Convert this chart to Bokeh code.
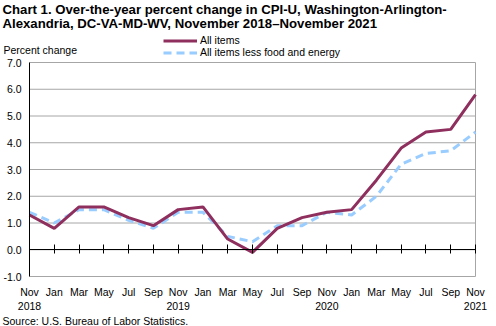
from bokeh.plotting import figure
from bokeh.models import (Range1d, FixedTicker, LinearAxis, Legend, LegendItem,
                          Label, NumeralTickFormatter)
from bokeh.embed import file_html
from bokeh.resources import INLINE

# ---- data ----
tick_labels = ["Nov\n2018", "Jan", "Mar", "May", "Jul", "Sep",
               "Nov\n2019", "Jan", "Mar", "May", "Jul", "Sep",
               "Nov\n2020", "Jan", "Mar", "May", "Jul", "Sep",
               "Nov\n2021"]
all_items = [1.3, 0.8, 1.6, 1.6, 1.2, 0.9, 1.5, 1.6, 0.4, -0.1,
             0.8, 1.2, 1.4, 1.5, 2.6, 3.8, 4.4, 4.5, 5.8]
core = [1.4, 1.0, 1.5, 1.5, 1.1, 0.8, 1.4, 1.4, 0.5, 0.3,
        0.9, 0.9, 1.4, 1.3, 2.0, 3.2, 3.6, 3.7, 4.4]
y_ticks = [-1, 0, 1, 2, 3, 4, 5, 6, 7]
series_names = ["All items", "All items less food and energy"]
title_lines = ["Chart 1. Over-the-year percent change in CPI-U, Washington-Arlington-",
               "Alexandria, DC-VA-MD-WV, November 2018\u2013November  2021"]
y_title = "Percent change"
source_text = "Source: U.S. Bureau of Labor Statistics."

x = list(range(len(all_items)))

# ---- layout (pixels) ----
W, H = 496, 326
PLOT_L, PLOT_R, PLOT_T, PLOT_B = 29, 475, 62, 276
FONT = "Liberation Sans"
GRID = "#a6a6a6"
C_ALL = "#8e2f5e"
C_CORE = "#99ccff"

# extend ranges so the frame covers the whole canvas while the plot area
# (x[0]..x[-1], y_ticks[0]..y_ticks[-1]) lands where the reference has it
x0, x1 = x[0], x[-1]
y0, y1 = y_ticks[0], y_ticks[-1]
xs = (x1 - x0) / (PLOT_R - PLOT_L)
ys = (y1 - y0) / (PLOT_B - PLOT_T)
xr = Range1d(x0 - PLOT_L * xs, x1 + (W - PLOT_R) * xs)
yr = Range1d(y0 - (H - PLOT_B) * ys, y1 + PLOT_T * ys)

p = figure(width=W, height=H, output_backend="svg", toolbar_location=None,
           x_range=xr, y_range=yr, min_border=0,
           x_axis_type=None, y_axis_type=None)
p.outline_line_color = None
p.background_fill_color = "white"
p.border_fill_color = "white"

# grid lines and right border of the plot area
p.segment(x0=x0, x1=x1, y0=y_ticks, y1=y_ticks, line_color=GRID, line_width=1)
p.segment(x0=x1, x1=x1, y0=y0, y1=y1, line_color=GRID, line_width=1)

# y axis at x = first category
yax = LinearAxis(ticker=FixedTicker(ticks=y_ticks), fixed_location=x0,
                 bounds=(y0, y1), formatter=NumeralTickFormatter(format="0.0"),
                 axis_line_color="black", axis_line_width=1,
                 major_tick_line_color=None, minor_tick_line_color=None,
                 major_tick_out=0, major_tick_in=0, major_label_standoff=8,
                 major_label_text_font=FONT, major_label_text_font_size="10.5px",
                 major_label_text_color="black")
p.add_layout(yax, "left")

# zero line with tick marks
xzero = LinearAxis(ticker=FixedTicker(ticks=x), fixed_location=0, bounds=(x0, x1),
                   axis_line_color="black", axis_line_width=1,
                   major_tick_line_color="black", major_tick_out=4, major_tick_in=5,
                   minor_tick_line_color=None, major_label_text_font_size="0px",
                   major_label_text_color=None, major_label_standoff=0)
p.add_layout(xzero, "below")

# category labels under the plot area
xlab = LinearAxis(ticker=FixedTicker(ticks=x), fixed_location=y0, bounds=(x0, x1),
                  major_label_overrides={i: t for i, t in zip(x, tick_labels)},
                  axis_line_color=None, major_tick_line_color=None,
                  minor_tick_line_color=None, major_tick_out=0, major_tick_in=0,
                  major_label_standoff=9, major_label_text_font=FONT,
                  major_label_text_font_size="10.5px", major_label_text_color="black")
p.add_layout(xlab, "below")

r_core = p.line(x, core, line_color=C_CORE, line_width=3, line_dash="8 5")
r_all = p.line(x, all_items, line_color=C_ALL, line_width=3)

legend = Legend(items=[LegendItem(label=series_names[0], renderers=[r_all]),
                       LegendItem(label=series_names[1], renderers=[r_core])],
                location=(163, H - 58), orientation="vertical",
                glyph_width=34, glyph_height=11, label_height=11,
                label_standoff=3, spacing=0, padding=0, margin=0,
                border_line_color=None, background_fill_alpha=0,
                label_text_font=FONT, label_text_font_size="10.5px",
                label_text_color="black")
p.add_layout(legend, "center")

def lab(txt, cx, baseline, size, bold=False):
    p.add_layout(Label(x=cx, y=H - baseline, x_units="screen", y_units="screen",
                       text=txt, text_font=FONT, text_font_size=size,
                       text_font_style="bold" if bold else "normal",
                       text_color="black", text_baseline="alphabetic",
                       text_align="left"))

lab(title_lines[0], 2, 9, "13.2px", True)
lab(title_lines[1], 2, 22.5, "13.2px", True)
lab(y_title, 3, 49.5, "10.5px")
lab(source_text, 2, 320.5, "10.5px")

open("out.html", "w").write(file_html(p, INLINE))
